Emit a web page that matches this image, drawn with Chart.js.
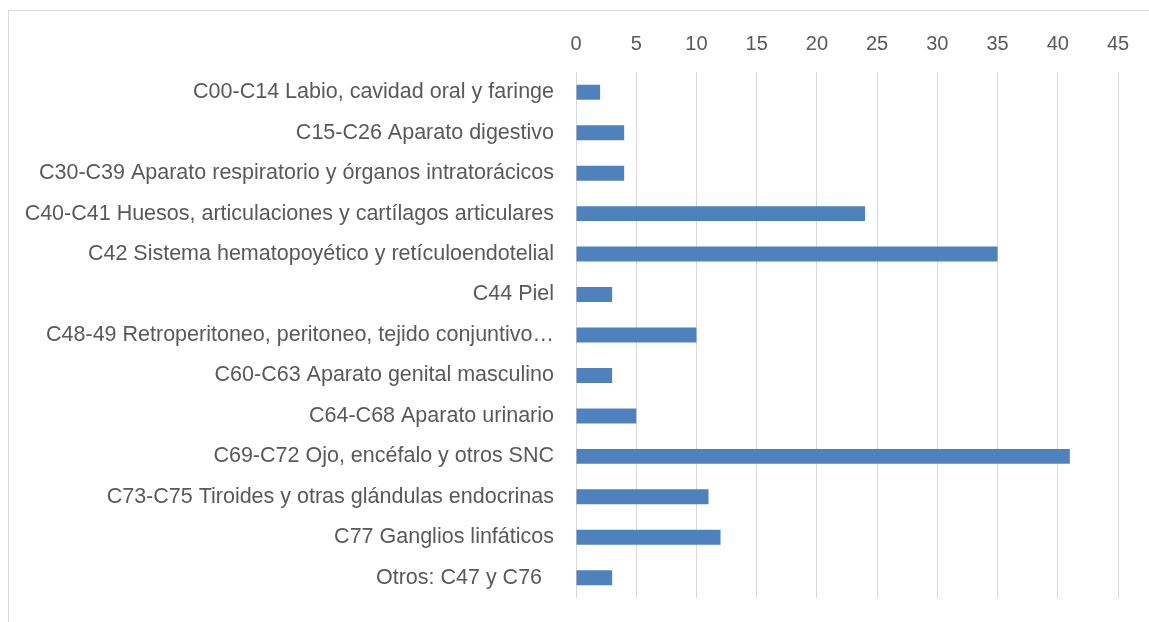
<!DOCTYPE html>
<html>
<head>
<meta charset="utf-8">
<script src="https://cdn.jsdelivr.net/npm/chart.js@4"></script>
<style>
  html, body { margin: 0; background: #fff; }
  #wrap { position: relative; width: 1149px; height: 622px; overflow: hidden; }
  #frame { position: absolute; left: 8px; top: 10px; width: 1200px; height: 700px;
           border-left: 1px solid #d9d9d9; border-top: 1px solid #d9d9d9; }
  canvas { position: absolute; left: 0; top: 0; }
</style>
</head>
<body>
<div id="wrap">
  <div id="frame"></div>
  <canvas id="chart" width="1149" height="622"></canvas>
</div>
<script>
const categories = [
  'C00-C14 Labio, cavidad oral y faringe',
  'C15-C26 Aparato digestivo',
  'C30-C39 Aparato respiratorio y órganos intratorácicos',
  'C40-C41 Huesos, articulaciones y cartílagos articulares',
  'C42 Sistema hematopoyético y retículoendotelial',
  'C44 Piel',
  'C48-49 Retroperitoneo, peritoneo, tejido conjuntivo…',
  'C60-C63 Aparato genital masculino',
  'C64-C68 Aparato urinario',
  'C69-C72 Ojo, encéfalo y otros SNC',
  'C73-C75 Tiroides y otras glándulas endocrinas',
  'C77 Ganglios linfáticos',
  'Otros: C47 y C76  '
];
const cases = [2, 4, 4, 24, 35, 3, 10, 3, 5, 41, 11, 12, 3];
const axisMin = 0;
const axisMax = 45;
const axisStep = 5;

const textColor = '#595959';
const gridColor = '#d9d9d9';
const fontFamily = "'Liberation Sans', Arial, sans-serif";

const ctx = document.getElementById('chart').getContext('2d');
new Chart(ctx, {
  type: 'bar',
  data: {
    labels: categories,
    datasets: [{
      data: cases,
      backgroundColor: '#4F81BD',
      categoryPercentage: 1,
      barPercentage: 0.37
    }]
  },
  options: {
    indexAxis: 'y',
    responsive: false,
    animation: false,
    layout: { padding: { left: 0, top: 0, right: 31, bottom: 24 } },
    plugins: { legend: { display: false }, tooltip: { enabled: false } },
    scales: {
      x: {
        position: 'top',
        min: axisMin,
        max: axisMax,
        ticks: { stepSize: axisStep, color: textColor, font: { family: fontFamily, size: 20 }, padding: 16 },
        grid: { color: gridColor, lineWidth: 1, drawTicks: false },
        border: { display: false },
        afterFit(scale) { scale.height = 72; }
      },
      y: {
        ticks: { color: textColor, font: { family: fontFamily, size: 21.5 }, padding: 22, autoSkip: false },
        grid: { display: false, drawTicks: false },
        border: { display: false },
        afterFit(scale) {
          scale.width = 576;
          scale.paddingTop = 0;
          scale.paddingBottom = 0;
        }
      }
    }
  }
});
</script>
</body>
</html>
